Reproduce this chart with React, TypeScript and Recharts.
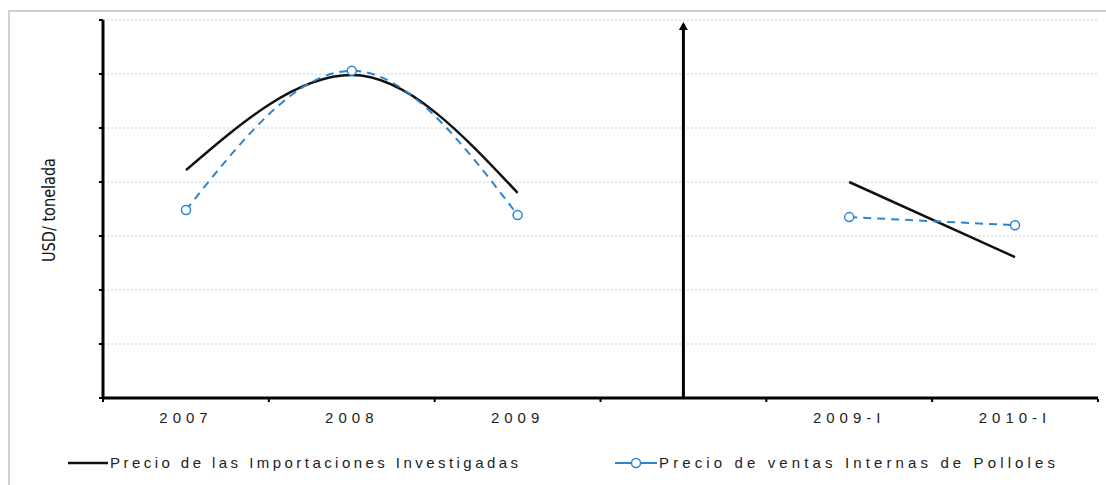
import React from 'react';
import { LineChart, Line, XAxis, YAxis, CartesianGrid, ReferenceLine, Legend } from 'recharts';

const categories = ['2007', '2008', '2009', ' ', '2009-I', '2010-I'];
const importPrices = [4.22, 5.98, 3.8, null, 4.0, 2.61];
const domesticPrices = [3.48, 6.06, 3.39, null, 3.35, 3.2];
const slotCenters = [0.5, 1.5, 2.5, 3.5, 4.5, 5.5];
const yTicks = [0, 1, 2, 3, 4, 5, 6, 7];
const boundaryTicks = [0, 1, 2, 3, 4, 5, 6];
const seriesNames = ['Precio de las Importaciones Investigadas', 'Precio de ventas Internas de Polloles'];
const yLabel = 'USD/ tonelada';

const data = categories.map((c, i) => ({
  cat: c,
  pos: slotCenters[i],
  importPrice: importPrices[i],
  domesticPrice: domesticPrices[i],
}));

const BLUE = '#2a86d1';
const FONT = '"Liberation Sans", Arial, sans-serif';

const CatTick = (props: any) => {
  const { x, y, payload } = props;
  return (
    <text x={x} y={y} textAnchor="middle" fontFamily={FONT} fontSize={15} letterSpacing={5} fill="#222" dy={11}>
      {payload.value}
    </text>
  );
};

const ArrowLine = (props: any) => {
  const { x1, y1, x2, y2 } = props;
  const top = Math.min(y1, y2);
  const bottom = Math.max(y1, y2);
  return (
    <g>
      <line x1={x1} y1={top + 4} x2={x2} y2={bottom} stroke="#000" strokeWidth={3} />
      <path d={`M${x1 - 4.5},${top + 10} L${x1},${top + 2} L${x1 + 4.5},${top + 10} Z`} fill="#000" />
    </g>
  );
};

const LegendContent = () => (
  <svg width={1106} height={40} style={{ display: 'block', overflow: 'visible' }}>
    <line x1={68} y1={15} x2={108} y2={15} stroke="#111" strokeWidth={2.5} />
    <text x={110} y={20} fontFamily={FONT} fontSize={15} fill="#222" textLength={408} lengthAdjust="spacing">
      {seriesNames[0]}
    </text>
    <line x1={615} y1={15} x2={657} y2={15} stroke={BLUE} strokeWidth={2} />
    <circle cx={636} cy={15} r={4.5} fill="#fff" stroke={BLUE} strokeWidth={1.5} />
    <text x={659} y={20} fontFamily={FONT} fontSize={15} fill="#222" textLength={396} lengthAdjust="spacing">
      {seriesNames[1]}
    </text>
  </svg>
);

const YLabel = () => (
  <text
    x={55}
    y={210}
    transform="rotate(-90 55 210)"
    textAnchor="middle"
    fontFamily='"Liberation Sans Narrow", "DejaVu Sans Condensed", sans-serif'
    fontSize={18}
    fill="#111"
    textLength={104}
    lengthAdjust="spacingAndGlyphs"
  >
    {yLabel}
  </text>
);

export default function App() {
  return (
    <div style={{ position: 'absolute', left: 0, top: 0, width: 1106, height: 485, background: '#fff' }}>
      <div
        style={{
          position: 'absolute',
          left: 8,
          top: 10,
          width: 1098,
          height: 475,
          borderTop: '2px solid #d2d2d2',
          borderLeft: '2px solid #d2d2d2',
          boxSizing: 'border-box',
        }}
      />
      <div style={{ position: 'absolute', left: 0, top: 0 }}>
        <LineChart width={1106} height={485} data={data} margin={{ top: 20, right: 8, bottom: 85, left: 102 }}>
          <CartesianGrid vertical={false} horizontal stroke="#d0d0d0" strokeDasharray="2 2" />
          <XAxis
            dataKey="cat"
            xAxisId={0}
            height={1}
            padding={{ left: 83, right: 83 }}
            tickLine={false}
            tickSize={0}
            tickMargin={14}
            axisLine={{ stroke: '#000', strokeWidth: 3 }}
            tick={<CatTick />}
            interval={0}
          />
          <XAxis
            xAxisId="b"
            dataKey="pos"
            type="number"
            domain={[0, 6]}
            ticks={boundaryTicks}
            interval={0}
            height={1}
            axisLine={false}
            tickLine={{ stroke: '#000', strokeWidth: 2 }}
            tickSize={3}
            tickFormatter={() => ''}
            allowDataOverflow
          />
          <YAxis
            width={1}
            domain={[0, 7]}
            ticks={yTicks}
            interval={0}
            tickSize={4}
            tickLine={{ stroke: '#000', strokeWidth: 2 }}
            tickFormatter={() => ''}
            axisLine={{ stroke: '#000', strokeWidth: 3 }}
            label={{ content: () => <YLabel /> }}
          />
          <ReferenceLine x=" " stroke="#000" shape={<ArrowLine />} />
          <Legend
            content={<LegendContent />}
            wrapperStyle={{ position: 'absolute', left: 0, top: 448, width: 1106, height: 0, overflow: 'visible' }}
          />
          <Line
            type="monotone"
            dataKey="importPrice"
            name={seriesNames[0]}
            stroke="#111"
            strokeWidth={2.5}
            dot={false}
            connectNulls={false}
            isAnimationActive={false}
          />
          <Line
            type="monotone"
            dataKey="domesticPrice"
            name={seriesNames[1]}
            stroke={BLUE}
            strokeWidth={2}
            strokeDasharray="8 6"
            dot={{ r: 4.5, fill: '#fff', stroke: BLUE, strokeWidth: 1.5, strokeDasharray: 'none' }}
            connectNulls={false}
            isAnimationActive={false}
          />
        </LineChart>
      </div>
    </div>
  );
}
